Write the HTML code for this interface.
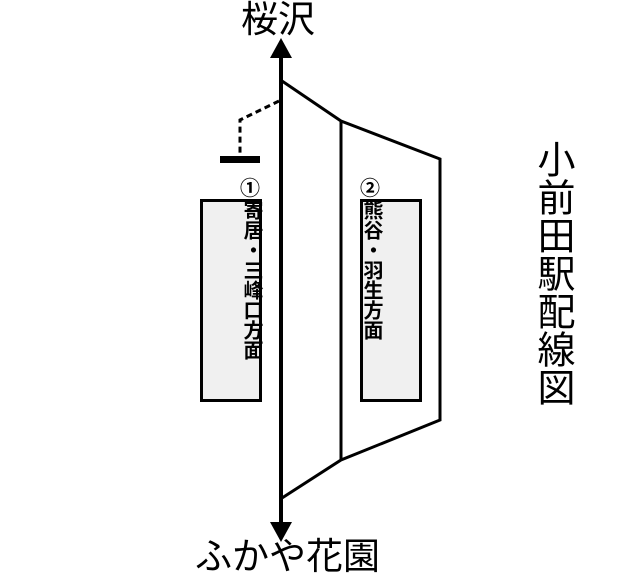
<!DOCTYPE html>
<html><head><meta charset="utf-8"><style>
html,body{margin:0;padding:0;background:#fff;}
body{width:640px;height:580px;position:relative;overflow:hidden;font-family:"Liberation Sans","Noto Sans CJK JP",sans-serif;}
.t{position:absolute;color:#000;white-space:nowrap;font-weight:bold;}
.v{position:absolute;writing-mode:vertical-rl;color:#000;font-weight:bold;}
</style></head><body>
<svg width="640" height="580" style="position:absolute;left:0;top:0">
<line x1="281" y1="50" x2="281" y2="530" stroke="#000" stroke-width="4"/>
<polygon points="270,58 292,58 281,38" fill="#000"/>
<polygon points="270,522 292,522 281,542" fill="#000"/>
<polyline points="282,81 341,121 440,159 440,420 341,460 282,498" fill="none" stroke="#000" stroke-width="3"/>
<line x1="341" y1="121" x2="341" y2="460" stroke="#000" stroke-width="3"/>
<polyline points="279,101 240,120 240,158" fill="none" stroke="#000" stroke-width="3" stroke-dasharray="6,4"/>
<rect x="220" y="156" width="40" height="7" fill="#000"/>
<rect x="201.5" y="200.5" width="59" height="200" fill="#f0f0f0" stroke="#000" stroke-width="3"/>
<rect x="361.5" y="200.5" width="59" height="200" fill="#f0f0f0" stroke="#000" stroke-width="3"/>
</svg>
<div class="t" style="left:241px;top:0px;font-size:37px;line-height:40px;font-weight:normal;">桜沢</div>
<div class="t" style="left:195px;top:536px;font-size:37px;line-height:42px;font-weight:normal;">ふかや花園</div>
<div class="v" style="left:532px;top:140px;font-size:38px;line-height:40px;font-weight:normal;">小前田駅配線図</div>
<div class="t" style="left:240px;top:178px;font-size:20px;line-height:22px;">①</div>
<div class="t" style="left:360px;top:178px;font-size:20px;line-height:22px;">②</div>
<div class="v" style="left:240px;top:200px;font-size:20px;line-height:22px;width:22px;">寄居・三峰口方面</div>
<div class="v" style="left:360px;top:200px;font-size:20px;line-height:22px;width:22px;">熊谷・羽生方面</div>
</body></html>
